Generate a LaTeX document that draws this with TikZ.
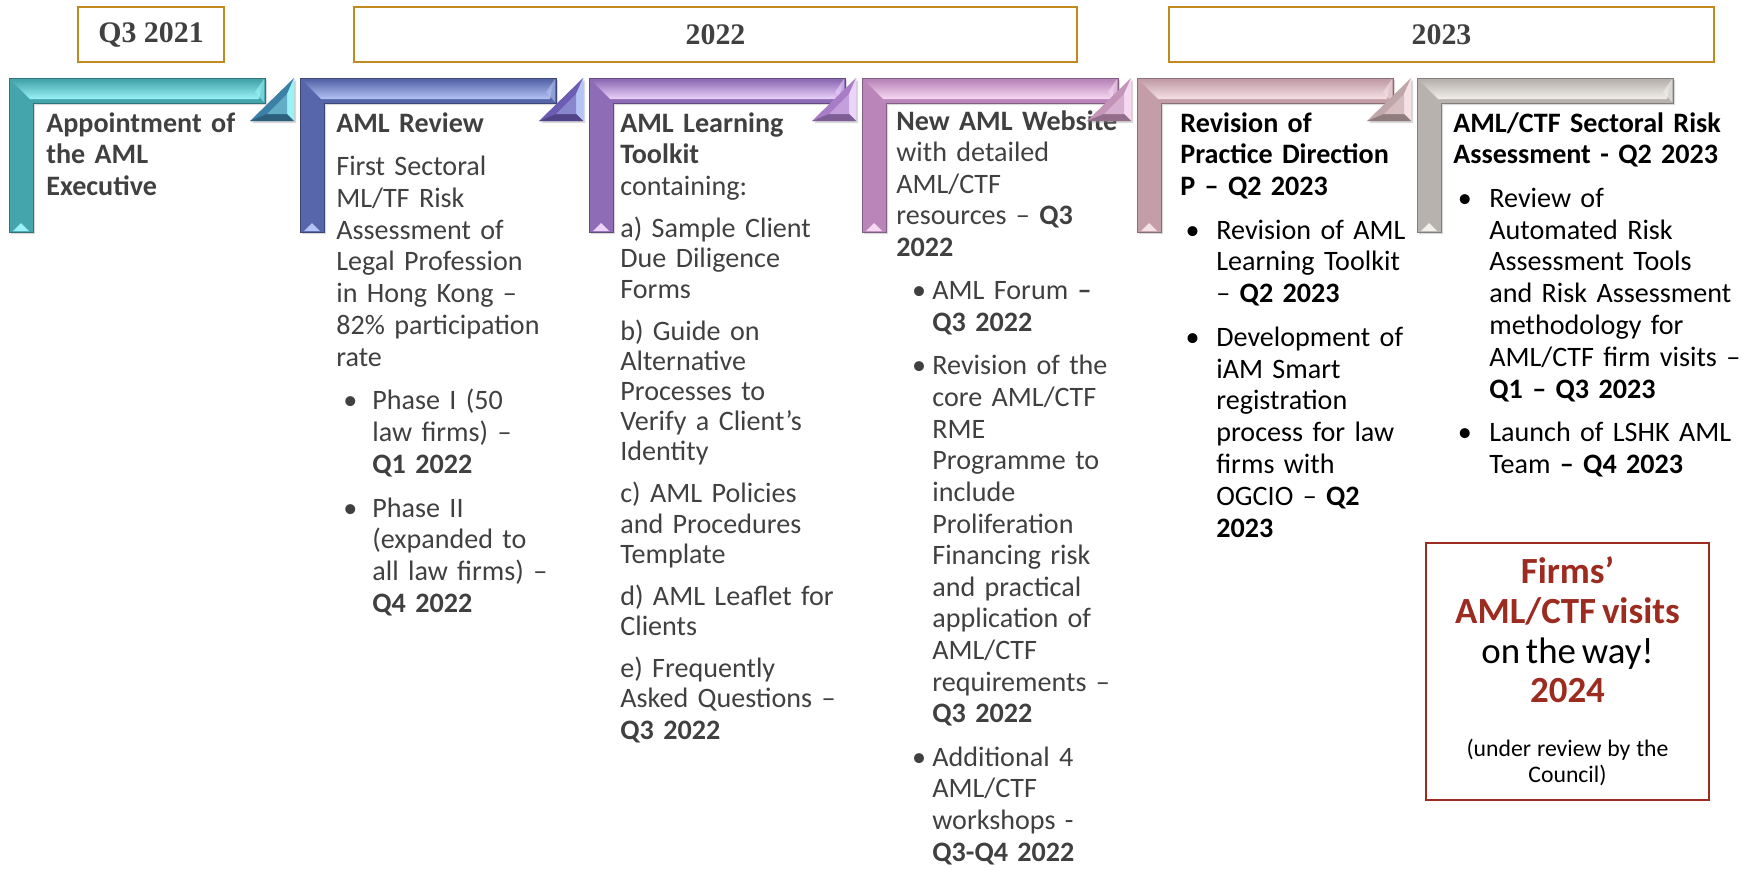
\documentclass[tikz,border=0pt]{standalone}
\usepackage{fontspec}
\setmainfont{Carlito}
\newfontfamily\yearfont{Liberation Serif}
\usetikzlibrary{positioning,shadows}

\definecolor{gold}{HTML}{C08A1E}
\definecolor{txtgray}{HTML}{404040}
\definecolor{firmred}{HTML}{9C2B20}
\definecolor{ch1}{HTML}{45A5AD}\definecolor{ch1l}{HTML}{9AF2F6}\definecolor{ch1t}{HTML}{3C80A6}
\definecolor{ch2}{HTML}{5766AA}\definecolor{ch2l}{HTML}{B4C4F4}\definecolor{ch2t}{HTML}{6C5CB4}
\definecolor{ch3}{HTML}{8E6CB6}\definecolor{ch3l}{HTML}{EBD3FA}\definecolor{ch3t}{HTML}{A87CC6}
\definecolor{ch4}{HTML}{BA86BA}\definecolor{ch4l}{HTML}{F6D8F2}\definecolor{ch4t}{HTML}{C393B8}
\definecolor{ch5}{HTML}{C39EA8}\definecolor{ch5l}{HTML}{F5E0E5}\definecolor{ch5t}{HTML}{BFA6A8}
\definecolor{ch6}{HTML}{B7B2AE}\definecolor{ch6l}{HTML}{F2F0EC}

\newcommand{\gap}{\par\vspace{6.7pt}}
\newcommand{\bitem}[2][4pt]{\par\vspace{6.7pt}\hangindent=20.5pt\hangafter=1\noindent\makebox[20.5pt][l]{\hspace{#1}\textbullet}\begingroup\let\\\newline #2\endgroup\par}

\begin{document}
\begin{tikzpicture}[x = 0.02cm, y = -0.02cm,
		year_box/.style = {draw = gold, line width = 1.1pt, minimum height = 1.1cm, inner sep = 0pt, text = txtgray, font = \yearfont\bfseries\fontsize{17}{20}\selectfont},
		col_text/.style = {anchor = base west, inner sep = 0pt, text width = 5.6cm, text = txtgray, font = \fontsize{16}{18.1}\selectfont},
		firm_box/.style = {draw = firmred, line width = 1pt, minimum width = 5.66cm, minimum height = 5.14cm, text width = 5.3cm, align = center, inner sep = 0pt},
		chev/.pic = {
			\fill[#1, drop shadow = {opacity = 0.3, shadow xshift = 1.2pt, shadow yshift = -1.2pt}] (0,0) -- (256,0) -- (256,25) -- (24,25) -- (24,154) -- (0,154) -- cycle;
			\shade[top color = #1, bottom color = #1l] (2,2) -- (254,2) -- (250,21) -- (21,21) -- cycle;
			\draw[#1!70!black, line width = 0.4pt] (0,0) -- (256,0) -- (256,25) -- (24,25) -- (24,154) -- (0,154) -- cycle;
			\fill[#1l] (4,153) -- (12,145) -- (20,153) -- cycle;
			\fill[#1l, opacity = 0.6] (255,1) -- (255,24) -- (246,14) -- cycle;
		},
		chev_tip/.pic = {
			\fill[#1t, drop shadow = {opacity = 0.3, shadow xshift = 1.2pt, shadow yshift = -1.2pt}] (-44,0) -- (0,-43) -- (0,0) -- cycle;
			\fill[#1l] (0,-43) -- (0,0) -- (-7,-7) -- (-7,-27) -- cycle;
			\fill[#1t!75!black] (-44,0) -- (0,0) -- (-7,-7) -- (-27,-7) -- cycle;
			\fill[#1t!60!#1l] (-27,-7) -- (-7,-27) -- (-7,-7) -- cycle;
		},
		]

		\useasboundingbox (0,0) rectangle (1756,869);

		% years
		\node[year_box, minimum width = 2.92cm](q3) at (151,34.5){Q3 2021};
		\node[year_box, minimum width = 14.46cm](y22) at (715.5,34.5){2022};
		\node[year_box, minimum width = 10.9cm](y23) at (1441.5,34.5){2023};

		% bars
		\pic at (9,78) {chev = ch1};
		\pic at (300,78) {chev = ch2};
		\pic at (589,78) {chev = ch3};
		\pic at (862,78) {chev = ch4};
		\pic at (1137,78) {chev = ch5};
		\pic at (1417,78) {chev = ch6};

		% texts
		\node[col_text](appt) at (46,132){\textbf{Appointment of\\the AML\\Executive}};

		\node[col_text](review) at (336,132){\textbf{AML Review}\gap
			First Sectoral\\ML/TF Risk\\Assessment of\\Legal Profession\\in Hong Kong –\\82\% participation\\rate
			\bitem[4pt]{Phase I (50\\law firms) –\\\textbf{Q1 2022}}
			\bitem[4pt]{Phase II\\(expanded to\\all law firms) –\\\textbf{Q4 2022}}};

		\node[col_text](kit) at (620,132){\textbf{AML Learning\\Toolkit}\\containing:\gap
			\fontsize{16}{17.2}\selectfont
			a) Sample Client\\Due Diligence\\Forms\gap
			b) Guide on\\Alternative\\Processes to\\Verify a Client’s\\Identity\gap
			c) AML Policies\\and Procedures\\Template\gap
			d) AML Leaflet for\\Clients\gap
			e) Frequently\\Asked Questions –\\\textbf{Q3 2022}};

		\node[col_text, font = \fontsize{16}{18}\selectfont](web) at (896,130){\textbf{New AML Website}\\with detailed\\AML/CTF\\resources – \textbf{Q3\\2022}
			\bitem[9pt]{AML Forum \textbf{–}\\\textbf{Q3 2022}}
			\bitem[9pt]{Revision of the\\core AML/CTF\\RME\\Programme to\\include\\Proliferation\\Financing risk\\and practical\\application of\\AML/CTF\\requirements –\\\textbf{Q3 2022}}
			\bitem[9pt]{Additional 4\\AML/CTF\\workshops -\\\textbf{Q3-Q4 2022}}};

		\node[col_text, text = black](pd) at (1180,132){\textbf{Revision of\\Practice Direction\\P – Q2 2023}
			\bitem[3pt]{Revision of AML\\Learning Toolkit\\– \textbf{Q2 2023}}
			\bitem[3pt]{Development of\\iAM Smart\\registration\\process for law\\firms with\\OGCIO – \textbf{Q2\\2023}}};

		\node[col_text, text = black, text width = 6.2cm](sra) at (1453,132){\textbf{AML/CTF Sectoral Risk\\Assessment - Q2 2023}
			\bitem[2.5pt]{Review of\\Automated Risk\\Assessment Tools\\and Risk Assessment\\methodology for\\AML/CTF firm visits –\\\textbf{Q1 – Q3 2023}}
			\bitem[2.5pt]{Launch of LSHK AML\\Team \textbf{– Q4 2023}}};

		% tips
		\pic at (294,121) {chev_tip = ch1};
		\pic at (583,121) {chev_tip = ch2};
		\pic at (856,121) {chev_tip = ch3};
		\pic at (1131,121) {chev_tip = ch4};
		\pic at (1411,121) {chev_tip = ch5};

		% visits
		\node[firm_box](visits) at (1567.5,671.5){{\fontsize{21}{22.6}\selectfont
			\textcolor{firmred}{\textbf{Firms’\\AML/CTF visits}}\\on the way!\\\textcolor{firmred}{\textbf{2024}}\par}
			\vspace{16pt}
			{\fontsize{13.5}{14.7}\selectfont (under review by the\\Council)\par}};

\end{tikzpicture}
\end{document}
